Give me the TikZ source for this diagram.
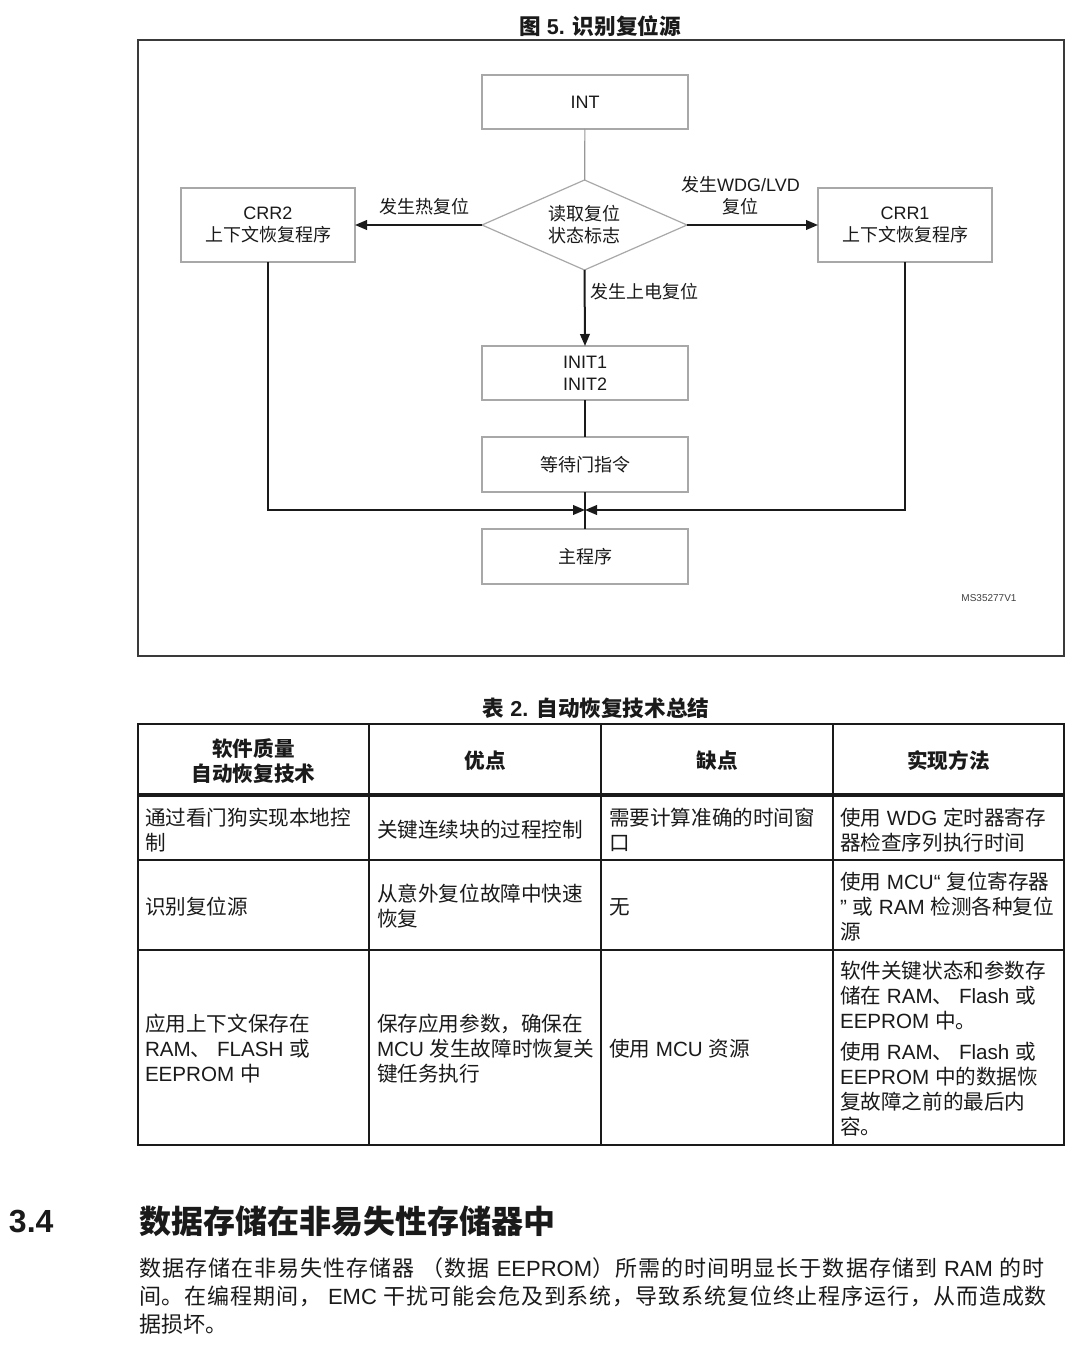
\documentclass[tikz,border=0pt]{standalone}
\usepackage{fontspec}
\setmainfont{Liberation Sans}
\newfontfamily\cjkf{Noto Sans CJK SC}
\newfontfamily\latf{Liberation Sans}
\XeTeXinterchartokenstate=1
\newXeTeXintercharclass\CJKcls
\def\setcjkrange#1#2{\count255=#1\relax\loop\XeTeXcharclass\count255=\CJKcls\relax\ifnum\count255<#2\relax\advance\count255 by 1\relax\repeat}
\setcjkrange{"4E00}{"9FFF}
\setcjkrange{"3000}{"303F}
\setcjkrange{"FF00}{"FFEF}
\XeTeXcharclass"201C=0
\XeTeXcharclass"201D=0
\XeTeXinterchartoks 0 \CJKcls={\cjkf}
\XeTeXinterchartoks 4095 \CJKcls={\cjkf}
\XeTeXinterchartoks \CJKcls 0={\latf}
\XeTeXinterchartoks \CJKcls 4095={\latf}
\XeTeXinterchartoks \CJKcls \CJKcls={\hskip 0pt plus 0.2em\relax}
\usetikzlibrary{shapes.geometric,arrows.meta}
\definecolor{ink}{HTML}{1A1A1A}
\definecolor{boxgray}{HTML}{A8A8A8}
\definecolor{framegray}{HTML}{3A3A3A}
\newcommand\myfs[2]{\fontsize{#1}{#2}\selectfont}
\begin{document}
\begin{tikzpicture}[x=0.5pt,y=-0.5pt,
  every node/.style={inner sep=0pt,outer sep=0pt,text=ink},
  fbox/.style={draw=boxgray,line width=0.6pt,minimum width=103pt,minimum height=27pt,font=\myfs{9}{11},align=center},
  sbox/.style={draw=boxgray,line width=0.6pt,minimum width=87pt,minimum height=37pt,font=\myfs{9}{11},align=center},
  arr/.style={draw=ink,line width=1pt,-{Triangle[length=6pt,width=4.8pt]}},
  bline/.style={draw=ink,line width=0.65pt},
  gline/.style={draw=boxgray!90!black,line width=0.6pt},
  lbl/.style={font=\myfs{9}{11},align=center},
  tline/.style={draw=ink,line width=0.7pt},
  cell/.style={anchor=west,align=left,font=\myfs{10.3}{12.5}},
  head/.style={align=center,font=\bfseries\myfs{10.3}{12.5}}]
\useasboundingbox (0,0) rectangle (1080,1354);
\fill[white] (0,0) rectangle (1080,1354);
% ---------- figure ----------
\node[font=\bfseries\myfs{10.8}{12}] (ftitle) at (600,26) {图 5. 识别复位源};
\draw[draw=framegray,line width=0.9pt] (138,40) rectangle (1064,656);
\node[fbox] (int) at (585,102) {INT};
\node[draw=boxgray,line width=0.6pt,shape=diamond,aspect=2.28,minimum width=102.5pt,minimum height=45pt,font=\myfs{9}{11},align=center] (dia) at (584.5,225) {读取复位\\状态标志};
\node[sbox] (crr2) at (268,225) {CRR2\\上下文恢复程序};
\node[sbox] (crr1) at (905,225) {CRR1\\上下文恢复程序};
\node[fbox] (init) at (585,373) {INIT1\\INIT2};
\node[fbox,minimum height=27.5pt] (wait) at (585,464.5) {等待门指令};
\node[fbox,minimum height=27.5pt] (main) at (585,556.5) {主程序};
\coordinate (j) at (585,510);
\draw[gline] (int) -- (dia);
\draw[arr] (dia.west) -- (crr2.east) node[lbl,midway,above=5pt,xshift=3pt] {发生热复位};
\draw[arr] (dia.east) -- (crr1.west) node[lbl,midway,above=5pt,xshift=-6pt] {发生WDG/LVD\\复位};
\draw[arr] (dia.south) -- (init.north) node[lbl,pos=0.28,anchor=west,xshift=3pt] {发生上电复位};
\draw[bline] (init) -- (wait);
\draw[bline] (wait) -- (main);
\draw[arr] (crr2.south) |- (j);
\draw[arr] (crr1.south) |- (j);
\node[font=\myfs{5}{6},text=black!75] (ms) at (989,598) {MS35277V1};
% ---------- table ----------
\node[font=\bfseries\myfs{10.8}{12}] (ttitle) at (596,708) {表 2. 自动恢复技术总结};
\draw[tline] (138,724) rectangle (1064,1145);
\draw[tline] (369,724) -- (369,1145);
\draw[tline] (601,724) -- (601,1145);
\draw[tline] (833,724) -- (833,1145);
\draw[draw=ink,line width=2pt] (138,795) -- (1064,795);
\draw[tline] (138,860) -- (1064,860);
\draw[tline] (138,950) -- (1064,950);
\node[head] (h1) at (253.5,761) {软件质量\\自动恢复技术};
\node[head] (h2) at (485,761) {优点};
\node[head] (h3) at (717,761) {缺点};
\node[head] (h4) at (948.5,761) {实现方法};
\node[cell] (a1) at (145,830) {通过看门狗实现本地控\\制};
\node[cell] (a2) at (377,830) {关键连续块的过程控制};
\node[cell] (a3) at (609,830) {需要计算准确的时间窗\\口};
\node[cell] (a4) at (840,830) {使用 WDG 定时器寄存\\器检查序列执行时间};
\node[cell] (b1) at (145,907) {识别复位源};
\node[cell] (b2) at (377,906.5) {从意外复位故障中快速\\恢复};
\node[cell] (b3) at (609,907) {无};
\node[cell] (b4) at (840,907) {使用 MCU“ 复位寄存器\\” 或 RAM 检测各种复位\\源};
\node[cell] (c1) at (145,1049) {应用上下文保存在\\RAM、 FLASH 或\\EEPROM 中};
\node[cell] (c2) at (377,1049) {保存应用参数，确保在\\MCU 发生故障时恢复关\\键任务执行};
\node[cell] (c3) at (609,1049) {使用 MCU 资源};
\node[cell] (c4) at (840,1048.5) {软件关键状态和参数存\\储在 RAM、 Flash 或\\EEPROM 中。\\[3pt]使用 RAM、 Flash 或\\EEPROM 中的数据恢\\复故障之前的最后内\\容。};
% ---------- section ----------
\node[anchor=west,font=\bfseries\myfs{16}{18}] (secnum) at (9,1221) {3.4};
\node[anchor=west,font=\bfseries\myfs{16}{18}] (sectitle) at (139,1221) {数据存储在非易失性存储器中};
\node[anchor=west,font=\myfs{11}{14}] (p1) at (139,1268) {\hbox to 453pt{数据存储在非易失性存储器 （数据 EEPROM）所需的时间明显长于数据存储到 RAM 的时}};
\node[anchor=west,font=\myfs{11}{14}] (p2) at (139,1296) {\hbox to 454pt{间。在编程期间， EMC 干扰可能会危及到系统，导致系统复位终止程序运行，从而造成数}};
\node[anchor=west,font=\myfs{11}{14}] (p3) at (139,1324) {据损坏。};
\end{tikzpicture}
\end{document}
